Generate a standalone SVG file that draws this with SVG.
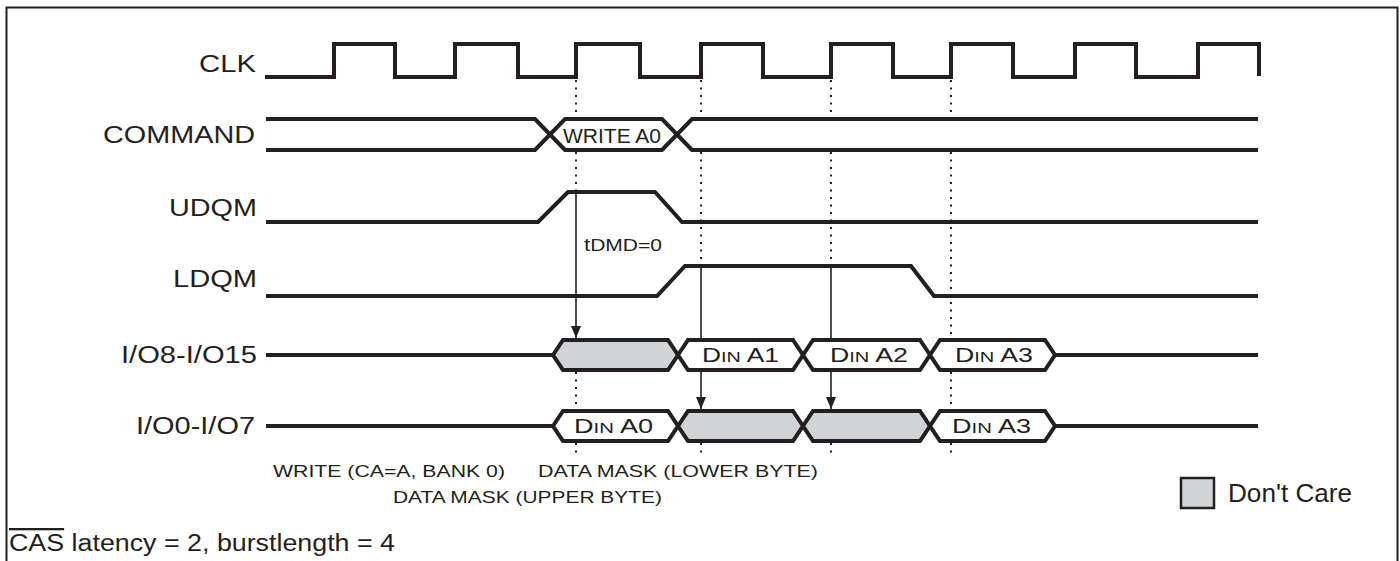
<svg xmlns="http://www.w3.org/2000/svg" width="1400" height="561" viewBox="0 0 1400 561">
<style>
.sig{fill:none;stroke:#231f20;stroke-width:4;stroke-linejoin:miter}
.box{fill:#ffffff;stroke:#231f20;stroke-width:4;stroke-linejoin:miter}
.dc{fill:#d1d3d4;stroke:#231f20;stroke-width:4;stroke-linejoin:miter}
.dot{fill:none;stroke:#231f20;stroke-width:2;stroke-dasharray:2 5.5}
.arr{fill:none;stroke:#231f20;stroke-width:1.6;marker-end:url(#ah)}
.lbl{font-family:"Liberation Sans",Arial,sans-serif;font-size:23px;fill:#231f20}
.small{font-family:"Liberation Sans",Arial,sans-serif;font-size:17px;fill:#231f20}
.din{font-family:"Liberation Sans",Arial,sans-serif;font-size:20px;fill:#231f20}
.sc{font-size:15px}
</style>
<defs>
<marker id="ah" markerUnits="userSpaceOnUse" markerWidth="12" markerHeight="10" refX="12" refY="5" orient="auto">
<path d="M0,0 L12,5 L0,10 z" fill="#231f20"/>
</marker>
</defs>
<rect x="6.5" y="7.5" width="1391" height="600" fill="#ffffff" stroke="#231f20" stroke-width="2"/>

<g id="connectors">
<path class="dot" d="M576,80 V117 M576,152 V190 M701,80 V117 M701,152 V265 M831,80 V117 M831,152 V265 M951,80 V117 M951,152 V339 M576,372 V409 M951,372 V409 M576,443 V458 M701,443 V458 M831,443 V458 M951,443 V458"/>
<line class="arr" x1="576" y1="192" x2="576" y2="338"/>
<line class="arr" x1="701" y1="266" x2="701" y2="409"/>
<line class="arr" x1="831" y1="266" x2="831" y2="409"/>
</g>

<g id="clk">
<text class="lbl" x="199" y="72" textLength="57" lengthAdjust="spacingAndGlyphs">CLK</text>
<path class="sig" d="M265,77 H334 V44 H395 V77 H455 V44 H518 V77 H576 V44 H640 V77 H701 V44 H763 V77 H831 V44 H893 V77 H951 V44 H1013 V77 H1075 V44 H1136 V77 H1198 V44 H1259 V76"/>
</g>

<g id="command">
<text class="lbl" x="103" y="143" textLength="152" lengthAdjust="spacingAndGlyphs">COMMAND</text>
<path class="sig" d="M266,119 H535 L565,150 H662 L692,119 H1258"/>
<path class="sig" d="M266,150 H535 L565,119 H662 L692,150 H1258"/>
<text class="lbl" x="563" y="143" font-size="21" style="font-size:21px" textLength="98" lengthAdjust="spacingAndGlyphs">WRITE A0</text>
</g>

<g id="udqm">
<text class="lbl" x="169" y="216" textLength="88" lengthAdjust="spacingAndGlyphs">UDQM</text>
<path class="sig" d="M266,222 H538 L568,192 H655 L682,222 H1258"/>
</g>

<g id="tdmd">
<text class="small" x="584" y="251" textLength="78" lengthAdjust="spacingAndGlyphs"><tspan style="font-size:18px">t</tspan>DMD=0</text>
</g>

<g id="ldqm">
<text class="lbl" x="173" y="287" textLength="84" lengthAdjust="spacingAndGlyphs">LDQM</text>
<path class="sig" d="M266,296 H657 L685,266 H911 L934,296 H1258"/>
</g>

<g id="io8">
<text class="lbl" x="121" y="363" textLength="136" lengthAdjust="spacingAndGlyphs">I/O8-I/O15</text>
<path class="sig" d="M266,355 H553 M1055,355 H1258"/>
<polygon class="dc" points="553,355 563,340 668,340 678,355 668,370 563,370"/>
<polygon class="box" points="678,355 688,340 793,340 803,355 793,370 688,370"/>
<polygon class="box" points="803,355 813,340 920,340 930,355 920,370 813,370"/>
<polygon class="box" points="930,355 940,340 1045,340 1055,355 1045,370 940,370"/>
<text class="din" x="702" y="362" textLength="77" lengthAdjust="spacingAndGlyphs">D<tspan class="sc">IN</tspan> A1</text>
<text class="din" x="830" y="362" textLength="78" lengthAdjust="spacingAndGlyphs">D<tspan class="sc">IN</tspan> A2</text>
<text class="din" x="955" y="362" textLength="78" lengthAdjust="spacingAndGlyphs">D<tspan class="sc">IN</tspan> A3</text>
</g>

<g id="io0">
<text class="lbl" x="136" y="434" textLength="119" lengthAdjust="spacingAndGlyphs">I/O0-I/O7</text>
<path class="sig" d="M266,426 H553 M1055,426 H1258"/>
<polygon class="box" points="553,426 563,411 668,411 678,426 668,441 563,441"/>
<polygon class="dc" points="678,426 688,411 793,411 803,426 793,441 688,441"/>
<polygon class="dc" points="803,426 813,411 920,411 930,426 920,441 813,441"/>
<polygon class="box" points="930,426 940,411 1045,411 1055,426 1045,441 940,441"/>
<text class="din" x="574" y="433" textLength="79" lengthAdjust="spacingAndGlyphs">D<tspan class="sc">IN</tspan> A0</text>
<text class="din" x="952" y="433" textLength="79" lengthAdjust="spacingAndGlyphs">D<tspan class="sc">IN</tspan> A3</text>
</g>

<g id="notes">
<text class="small" x="273" y="477" textLength="232" lengthAdjust="spacingAndGlyphs">WRITE (CA=A, BANK 0)</text>
<text class="small" x="538" y="477" textLength="280" lengthAdjust="spacingAndGlyphs">DATA MASK (LOWER BYTE)</text>
<text class="small" x="393" y="503" textLength="269" lengthAdjust="spacingAndGlyphs">DATA MASK (UPPER BYTE)</text>
<text class="lbl" x="9" y="551" textLength="386" lengthAdjust="spacingAndGlyphs"><tspan text-decoration="overline">CAS</tspan> latency = 2, burstlength = 4</text>
</g>

<g id="legend">
<rect class="dc" x="1181" y="478" width="33" height="30" style="stroke-width:2.5"/>
<text class="lbl" x="1228" y="502" style="font-size:25px" textLength="124" lengthAdjust="spacingAndGlyphs">Don't Care</text>
</g>
</svg>
